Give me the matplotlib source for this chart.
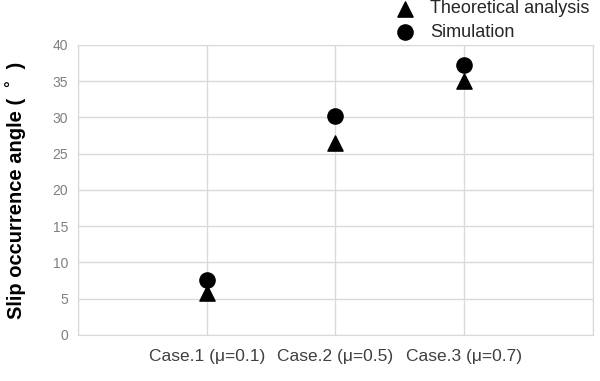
import numpy as np
import matplotlib.pyplot as plt

plt.rcParams['font.family'] = ['Liberation Sans', 'DejaVu Sans']

cases = ['Case.1 (μ=0.1)', 'Case.2 (μ=0.5)', 'Case.3 (μ=0.7)']
theoretical = [5.8, 26.5, 35.0]
simulation = [7.6, 30.2, 37.2]
y_ticks = [0, 5, 10, 15, 20, 25, 30, 35, 40]

fig = plt.figure(figsize=(6, 3.81), dpi=100)
ax = fig.add_axes([0.13, 0.121, 0.858, 0.761])

x = np.arange(1, len(cases) + 1)
ax.scatter(x, theoretical, marker='^', s=120, color='black', zorder=3,
           label='Theoretical analysis')
ax.scatter(x, simulation, marker='o', s=120, color='black', zorder=3,
           label='Simulation')

ax.set_xlim(0, 4)
ax.set_ylim(0, 40)
ax.set_yticks(y_ticks)
ax.set_xticks(x)
ax.set_xticklabels(cases, fontsize=12.5, color='#404040')
ax.tick_params(axis='y', labelsize=10, labelcolor='#7f7f7f', length=0, pad=7)
ax.tick_params(axis='x', length=0, pad=10)

# vertical grid at the category boundaries and through the categories
for gx in range(0, 5):
    ax.axvline(gx, color='#d9d9d9', lw=1, zorder=0)
ax.grid(axis='y', color='#d9d9d9', lw=1, zorder=0)
for s in ax.spines.values():
    s.set_color('#d9d9d9')

ax.set_ylabel('Slip occurrence angle (  ˚  )', fontsize=14.5,
              fontweight='bold', labelpad=19)

ax.legend(loc='lower left', bbox_to_anchor=(0.6, 0.99), frameon=False,
          fontsize=13, handletextpad=0.8, borderaxespad=0, labelspacing=0.35,
          handlelength=1.2, labelcolor='#262626')

fig.savefig('out.png', dpi=100)
